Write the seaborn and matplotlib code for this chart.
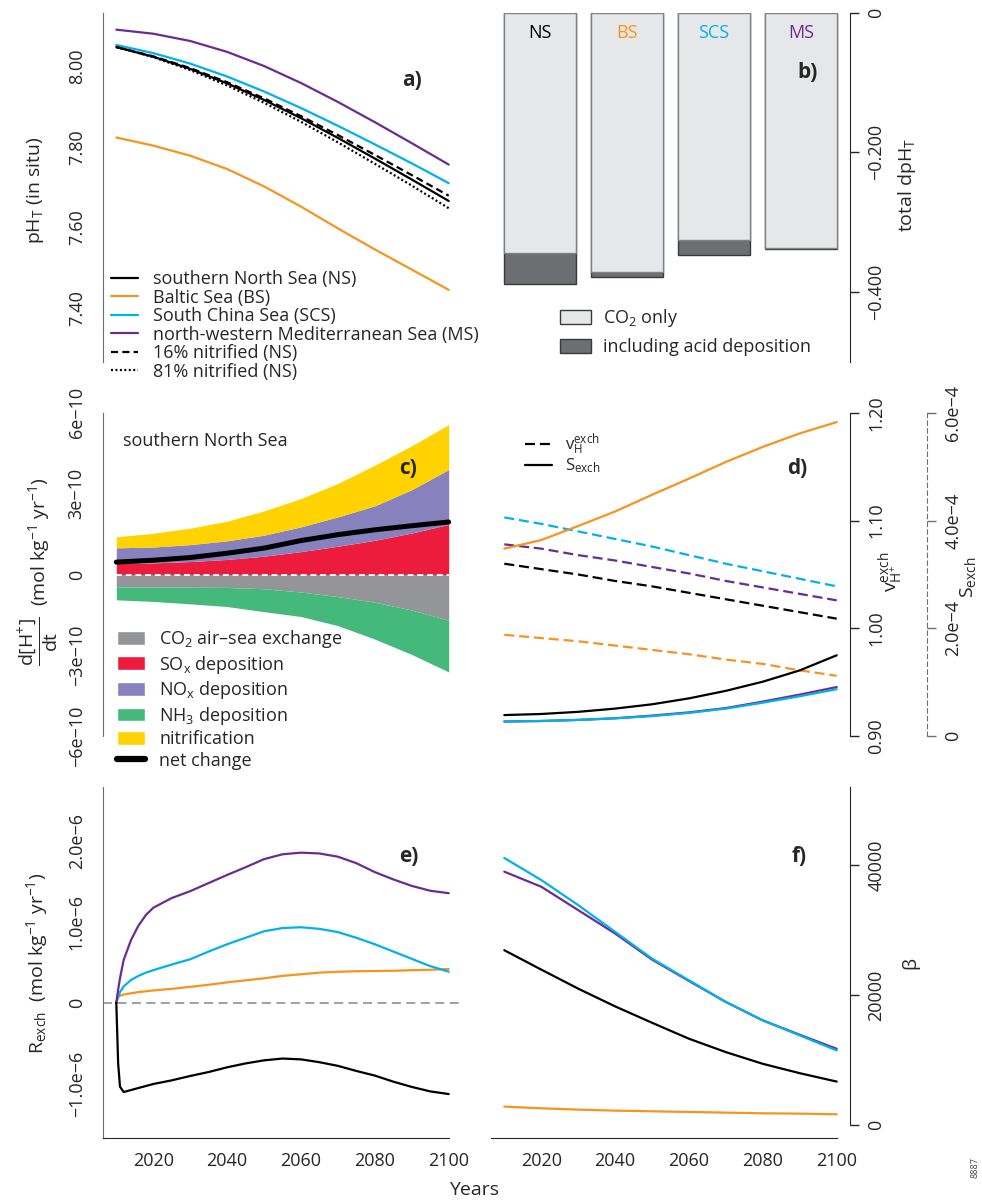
import matplotlib
matplotlib.use("Agg")
import matplotlib.pyplot as plt
from matplotlib.lines import Line2D
from matplotlib.patches import Patch
import seaborn as sns

sns.set_style("white")
plt.rcParams["font.family"] = ["Open Sans", "DejaVu Sans"]
plt.rcParams["mathtext.fontset"] = "custom"
plt.rcParams["mathtext.rm"] = "Open Sans"
plt.rcParams["mathtext.it"] = "Open Sans:italic"
plt.rcParams["mathtext.bf"] = "Open Sans:bold"
plt.rcParams["axes.unicode_minus"] = True

# ------------------------------------------------------------------ data
years = [2010, 2020, 2030, 2040, 2050, 2060, 2070, 2080, 2090, 2100]

# a) in-situ pH_T
ph_ns = [8.047, 8.023, 7.993, 7.957, 7.916, 7.871, 7.822, 7.771, 7.719, 7.666]
ph_bs = [7.823, 7.803, 7.778, 7.745, 7.702, 7.652, 7.598, 7.546, 7.496, 7.446]
ph_scs = [8.052, 8.032, 8.006, 7.974, 7.937, 7.896, 7.852, 7.806, 7.759, 7.710]
ph_ms = [8.090, 8.080, 8.062, 8.035, 8.000, 7.958, 7.911, 7.861, 7.809, 7.756]
ph_ns_nit16 = [8.047, 8.024, 7.995, 7.960, 7.920, 7.876, 7.829, 7.780, 7.730, 7.679]
ph_ns_nit81 = [8.047, 8.022, 7.990, 7.952, 7.909, 7.862, 7.811, 7.758, 7.704, 7.648]

# b) total pH change 2010-2100
regions = ["NS", "BS", "SCS", "MS"]
dph_co2_only = [-0.344, -0.372, -0.326, -0.337]
dph_with_dep = [-0.388, -0.379, -0.347, -0.338]

# c) contributions to d[H+]/dt, southern North Sea (units of 1e-10 mol/kg/yr)
c_unit = 1e-10
sox = [0.41, 0.43, 0.48, 0.56, 0.68, 0.85, 1.05, 1.27, 1.54, 1.86]
nox = [0.58, 0.59, 0.63, 0.69, 0.78, 0.92, 1.09, 1.28, 1.61, 2.04]
nitrif = [0.41, 0.51, 0.61, 0.73, 0.90, 1.05, 1.24, 1.51, 1.63, 1.67]
co2_ex = [-0.46, -0.46, -0.47, -0.48, -0.53, -0.65, -0.82, -1.03, -1.32, -1.70]
nh3 = [-0.48, -0.54, -0.62, -0.71, -0.85, -0.91, -1.08, -1.37, -1.65, -1.92]
net_change = [0.46, 0.53, 0.63, 0.79, 0.98, 1.26, 1.48, 1.66, 1.81, 1.95]

# d) v_H^exch (inner right scale) and S_exch (outer right scale, units of 1e-4)
vh_ns = [1.060, 1.055, 1.050, 1.044, 1.039, 1.033, 1.027, 1.021, 1.015, 1.009]
vh_bs = [0.994, 0.991, 0.988, 0.984, 0.980, 0.976, 0.971, 0.967, 0.961, 0.956]
vh_scs = [1.103, 1.097, 1.090, 1.083, 1.076, 1.068, 1.060, 1.053, 1.046, 1.039]
vh_ms = [1.078, 1.074, 1.068, 1.063, 1.057, 1.051, 1.044, 1.038, 1.032, 1.026]
s_unit = 1e-4
sx_ns = [0.39, 0.41, 0.45, 0.51, 0.59, 0.70, 0.84, 1.01, 1.22, 1.50]
sx_bs = [3.48, 3.64, 3.90, 4.17, 4.48, 4.78, 5.09, 5.37, 5.62, 5.83]
sx_scs = [0.27, 0.28, 0.30, 0.33, 0.37, 0.43, 0.51, 0.62, 0.74, 0.87]
sx_ms = [0.27, 0.28, 0.30, 0.33, 0.38, 0.44, 0.52, 0.64, 0.77, 0.91]

# e) R_exch (units of 1e-6 mol/kg/yr)
years_e = [2010, 2010.5, 2011, 2012, 2014, 2016, 2018, 2020, 2025, 2030, 2035, 2040,
           2045, 2050, 2055, 2060, 2065, 2070, 2075, 2080, 2085, 2090, 2095, 2100]
r_unit = 1e-6
rx_ns = [0.0, -0.749, -1.037, -1.103, -1.078, -1.053, -1.029, -1.004, -0.959, -0.905,
         -0.856, -0.798, -0.750, -0.712, -0.690, -0.700, -0.735, -0.780, -0.843, -0.900,
         -0.975, -1.040, -1.095, -1.128]
rx_bs = [0.0, 0.070, 0.085, 0.100, 0.115, 0.130, 0.140, 0.150, 0.170, 0.195, 0.220,
         0.250, 0.275, 0.300, 0.330, 0.350, 0.370, 0.380, 0.387, 0.390, 0.393, 0.400,
         0.405, 0.415]
rx_scs = [0.0, 0.070, 0.130, 0.200, 0.280, 0.330, 0.370, 0.400, 0.470, 0.535, 0.630,
          0.720, 0.800, 0.880, 0.920, 0.930, 0.910, 0.870, 0.800, 0.720, 0.630, 0.540,
          0.450, 0.382]
rx_ms = [0.0, 0.160, 0.300, 0.527, 0.774, 0.950, 1.080, 1.170, 1.290, 1.375, 1.475,
         1.575, 1.670, 1.770, 1.830, 1.850, 1.840, 1.800, 1.720, 1.610, 1.520, 1.440,
         1.380, 1.350]

# f) beta
beta_ns = [26890, 23910, 20980, 18250, 15730, 13270, 11210, 9410, 7970, 6680]
beta_bs = [2830, 2570, 2370, 2210, 2110, 2010, 1900, 1800, 1750, 1650]
beta_scs = [41080, 37690, 33830, 29720, 25600, 22260, 18920, 16090, 13780, 11470]
beta_ms = [38970, 36660, 33060, 29460, 25450, 22160, 18920, 16090, 13880, 11720]

# ------------------------------------------------------------------ style
C_NS, C_BS, C_SCS, C_MS = "#000000", "#F7941D", "#00B2EC", "#6A2C91"
C_CO2, C_SOX, C_NOX, C_NH3, C_NIT = "#939598", "#ED1C3C", "#8781BD", "#45B87B", "#FFD200"
BAR_LIGHT, BAR_DARK = "#E6E7E8", "#6D6E71"
LW = 1.6
DASH = (0, (3.2, 1.9))
DOT = (0, (0.9, 1.1))
DASH_D = (0, (4.5, 2.2))
TICK_FS = 13
LAB_FS = 14
LEG_FS = 13
XLIM = (2006.4, 2103.6)

W, H = 982, 1200
fig = plt.figure(figsize=(W / 100, H / 100), dpi=100)


def add_axes(left, top, right, bottom):
    return fig.add_axes([left / W, 1 - bottom / H, (right - left) / W, (bottom - top) / H])


def fxy(x, y):
    return (x / W, 1 - y / H)


def clean(ax, keep):
    for s in ["left", "right", "top", "bottom"]:
        ax.spines[s].set_visible(s in keep)
    ax.tick_params(length=6.5, width=1, labelsize=TICK_FS, direction="out")
    ax.set_xlabel("")
    ax.set_ylabel("")


def line(ax, x, y, color, ls="-", lw=LW):
    sns.lineplot(x=x, y=y, color=color, linestyle=ls, linewidth=lw, ax=ax,
                 legend=False, estimator=None, sort=False)


def panel_label(text, x, y):
    fig.text(*fxy(x, y), text, fontsize=15, fontweight="bold", ha="center", va="center")


L0, L1 = 103, 462
R0, R1 = 491, 850
ROW_A = (12.7, 361.7)
ROW_C = (400, 749)
ROW_E = (787, 1138)

ax_a = add_axes(L0, ROW_A[0], L1, ROW_A[1])
ax_b = add_axes(R0, ROW_A[0], R1, ROW_A[1])
ax_c = add_axes(L0, ROW_C[0], L1, ROW_C[1])
ax_d = add_axes(R0, ROW_C[0], R1, ROW_C[1])
ax_e = add_axes(L0, ROW_E[0], L1, ROW_E[1])
ax_f = add_axes(R0, ROW_E[0], R1, ROW_E[1])

# ------------------------------------------------------------------ a)
line(ax_a, years, ph_bs, C_BS)
line(ax_a, years, ph_ms, C_MS)
line(ax_a, years, ph_scs, C_SCS)
line(ax_a, years, ph_ns_nit16, C_NS, DASH)
line(ax_a, years, ph_ns_nit81, C_NS, DOT)
line(ax_a, years, ph_ns, C_NS)
ax_a.set_xlim(*XLIM)
ax_a.set_ylim(7.268, 8.132)
clean(ax_a, ["left"])
ax_a.spines["left"].set_color("#6D6E71")
ax_a.set_xticks([])
ax_a.set_yticks([7.4, 7.6, 7.8, 8.0])
ax_a.set_yticklabels(["7.40", "7.60", "7.80", "8.00"], rotation=90, va="center")
ax_a.tick_params(axis="y", pad=6, color="#6D6E71")
fig.text(*fxy(35, 190), r"pH$_{\mathrm{T}}$ (in situ)", rotation=90,
         fontsize=LAB_FS, ha="center", va="center")
panel_label("a)", 412, 80)
handles_a = [Line2D([], [], color=C_NS, lw=LW), Line2D([], [], color=C_BS, lw=LW),
             Line2D([], [], color=C_SCS, lw=LW), Line2D([], [], color=C_MS, lw=LW),
             Line2D([], [], color=C_NS, lw=LW, ls=DASH),
             Line2D([], [], color=C_NS, lw=LW, ls=DOT)]
labels_a = ["southern North Sea (NS)", "Baltic Sea (BS)", "South China Sea (SCS)",
            "north-western Mediterranean Sea (MS)", "16% nitrified (NS)",
            "81% nitrified (NS)"]
ax_a.legend(handles_a, labels_a, loc="upper left", bbox_to_anchor=fxy(111, 270),
            bbox_transform=fig.transFigure, frameon=False, fontsize=LEG_FS,
            handlelength=1.5, handletextpad=0.8, labelspacing=0.03,
            borderpad=0, borderaxespad=0)

# ------------------------------------------------------------------ b)
sns.barplot(x=regions, y=dph_with_dep, color=BAR_DARK, saturation=1, width=0.835,
            edgecolor="#3A3A3C", linewidth=1.0, ax=ax_b)
sns.barplot(x=regions, y=dph_co2_only, color=BAR_LIGHT, saturation=1, width=0.835,
            edgecolor="#808285", linewidth=1.0, ax=ax_b)
ax_b.set_xlim(-0.563, 3.563)
ax_b.set_ylim(-0.5, 0)
clean(ax_b, ["right"])
ax_b.set_xticks([])
ax_b.yaxis.tick_right()
ax_b.set_yticks([0, -0.2, -0.4])
ax_b.set_yticklabels(["0", "\u22120.200", "\u22120.400"], rotation=90, va="center")
ax_b.tick_params(axis="y", pad=6)
for i, (name, col) in enumerate(zip(regions, [C_NS, C_BS, C_SCS, C_MS])):
    ax_b.text(i, 0.942, name, color=col, fontsize=LEG_FS, ha="center", va="center",
              transform=ax_b.get_xaxis_transform())
fig.text(*fxy(907, 185), r"total dpH$_{\mathrm{T}}$", rotation=90,
         fontsize=LAB_FS, ha="center", va="center")
panel_label("b)", 808, 72)
handles_b = [Patch(facecolor=BAR_LIGHT, edgecolor="#3A3A3C", lw=1.0),
             Patch(facecolor=BAR_DARK, edgecolor="#3A3A3C", lw=1.0)]
ax_b.legend(handles_b, [r"CO$_{\mathrm{2}}$ only", "including acid deposition"],
            loc="upper left", bbox_to_anchor=fxy(560, 307),
            bbox_transform=fig.transFigure, frameon=False, fontsize=LEG_FS,
            handlelength=1.7, handleheight=0.85, handletextpad=0.7,
            labelspacing=0.5, borderpad=0, borderaxespad=0)

# ------------------------------------------------------------------ c)
s1 = [a * c_unit for a in sox]
s2 = [(a + b) * c_unit for a, b in zip(sox, nox)]
s3 = [(a + b + c) * c_unit for a, b, c in zip(sox, nox, nitrif)]
n1 = [a * c_unit for a in co2_ex]
n2 = [(a + b) * c_unit for a, b in zip(co2_ex, nh3)]
ax_c.fill_between(years, 0, s1, color=C_SOX, lw=0)
ax_c.fill_between(years, s1, s2, color=C_NOX, lw=0)
ax_c.fill_between(years, s2, s3, color=C_NIT, lw=0)
ax_c.fill_between(years, n1, 0, color=C_CO2, lw=0)
ax_c.fill_between(years, n2, n1, color=C_NH3, lw=0)
ax_c.hlines(0, years[0], years[-1], colors="white", linestyles=(0, (3, 2)), lw=1.4)
line(ax_c, years, [v * c_unit for v in net_change], "black", lw=3.6)
ax_c.set_xlim(*XLIM)
ax_c.set_ylim(-6.48e-10, 6.48e-10)
clean(ax_c, ["left"])
ax_c.spines["left"].set_color("#6D6E71")
ax_c.spines["left"].set_bounds(-6e-10, 6e-10)
ax_c.set_xticks([])
ax_c.set_yticks([-6e-10, -3e-10, 0, 3e-10, 6e-10])
ax_c.set_yticklabels(["\u22126e\u221210", "\u22123e\u221210", "0", "3e\u221210", "6e\u221210"],
                     rotation=90, va="center")
ax_c.tick_params(axis="y", pad=6, color="#6D6E71")
fig.text(*fxy(123, 441), "southern North Sea", fontsize=LEG_FS, ha="left", va="center")
fig.text(*fxy(38, 572),
         r"$\dfrac{\mathrm{d[H^{+}]}}{\mathrm{dt}}$  (mol kg$^{-1}$ yr$^{-1}$)",
         rotation=90, fontsize=LAB_FS, ha="center", va="center")
panel_label("c)", 408, 468)
handles_c = [Patch(facecolor=C_CO2), Patch(facecolor=C_SOX), Patch(facecolor=C_NOX),
             Patch(facecolor=C_NH3), Patch(facecolor=C_NIT),
             Line2D([], [], color="black", lw=4.5)]
labels_c = ["CO$_{\\mathrm{2}}$ air\u2013sea exchange", r"SO$_{\mathrm{x}}$ deposition",
            r"NO$_{\mathrm{x}}$ deposition", r"NH$_{\mathrm{3}}$ deposition",
            "nitrification", "net change"]
ax_c.legend(handles_c, labels_c, loc="upper left", bbox_to_anchor=fxy(117, 628),
            bbox_transform=fig.transFigure, frameon=False, fontsize=LEG_FS,
            handlelength=1.55, handleheight=0.8, handletextpad=0.8,
            labelspacing=0.2, borderpad=0, borderaxespad=0)

# ------------------------------------------------------------------ d)
ax_d2 = ax_d.twinx()
line(ax_d, years, vh_bs, C_BS, DASH_D)
line(ax_d, years, vh_ns, C_NS, DASH_D)
line(ax_d, years, vh_ms, C_MS, DASH_D)
line(ax_d, years, vh_scs, C_SCS, DASH_D)
line(ax_d2, years, [v * s_unit for v in sx_ns], C_NS)
line(ax_d2, years, [v * s_unit for v in sx_ms], C_MS)
line(ax_d2, years, [v * s_unit for v in sx_scs], C_SCS)
line(ax_d2, years, [v * s_unit for v in sx_bs], C_BS)
ax_d.set_xlim(*XLIM)
ax_d.set_ylim(0.888, 1.212)
ax_d2.set_ylim(-0.24e-4, 6.24e-4)
clean(ax_d, ["right"])
clean(ax_d2, ["right"])
ax_d.set_xticks([])
ax_d.yaxis.tick_right()
ax_d.spines["right"].set_bounds(0.9, 1.2)
ax_d.set_yticks([0.9, 1.0, 1.1, 1.2])
ax_d.set_yticklabels(["0.90", "1.00", "1.10", "1.20"], rotation=90, va="center")
ax_d.tick_params(axis="y", pad=6)
ax_d2.spines["right"].set_position(("outward", 55.4))
ax_d2.spines["right"].set_bounds(0, 6e-4)
ax_d2.spines["right"].set_linestyle((0, (4, 3)))
ax_d2.spines["right"].set_color("#6D6E71")
ax_d2.set_yticks([0, 2e-4, 4e-4, 6e-4])
ax_d2.set_yticklabels(["0", "2.0e\u22124", "4.0e\u22124", "6.0e\u22124"], rotation=90,
                      va="center")
ax_d2.tick_params(axis="y", pad=6, color="#6D6E71")
fig.text(*fxy(891, 572), r"$\mathrm{v}^{\mathrm{exch}}_{\mathrm{H^{+}}}$", rotation=90,
         fontsize=LAB_FS, ha="center", va="center")
fig.text(*fxy(968, 577), r"S$_{\mathrm{exch}}$", rotation=90,
         fontsize=LAB_FS, ha="center", va="center")
panel_label("d)", 797, 468)
handles_d = [Line2D([], [], color="black", lw=LW, ls=DASH_D),
             Line2D([], [], color="black", lw=LW)]
ax_d.legend(handles_d, [r"$\mathrm{v}^{\mathrm{exch}}_{\mathrm{H}}$", r"S$_{\mathrm{exch}}$"],
            loc="upper left", bbox_to_anchor=fxy(525, 432),
            bbox_transform=fig.transFigure, frameon=False, fontsize=12,
            handlelength=1.6, handletextpad=0.8, labelspacing=-0.1,
            borderpad=0, borderaxespad=0)

# ------------------------------------------------------------------ e)
ax_e.axhline(0, color="#999999", lw=1.3, ls=(0, (5, 3)))
line(ax_e, years_e, [v * r_unit for v in rx_bs], C_BS)
line(ax_e, years_e, [v * r_unit for v in rx_scs], C_SCS)
line(ax_e, years_e, [v * r_unit for v in rx_ms], C_MS)
line(ax_e, years_e, [v * r_unit for v in rx_ns], C_NS)
ax_e.set_xlim(*XLIM)
ax_e.set_ylim(-1.67e-6, 2.66e-6)
clean(ax_e, ["left", "bottom"])
ax_e.spines["left"].set_color("#6D6E71")
ax_e.spines["bottom"].set_bounds(XLIM[0], 2100)
ax_e.set_xticks([2020, 2040, 2060, 2080, 2100])
ax_e.set_xticklabels(["2020", "2040", "2060", "2080", "2100"])
ax_e.tick_params(axis="x", pad=3.5)
ax_e.set_yticks([-1e-6, 0, 1e-6, 2e-6])
ax_e.set_yticklabels(["\u22121.0e\u22126", "0", "1.0e\u22126", "2.0e\u22126"],
                     rotation=90, va="center")
ax_e.tick_params(axis="y", pad=6, color="#6D6E71")
fig.text(*fxy(37, 963), r"R$_{\mathrm{exch}}$  (mol kg$^{-1}$ yr$^{-1}$)", rotation=90,
         fontsize=LAB_FS, ha="center", va="center")
panel_label("e)", 409, 856)

# ------------------------------------------------------------------ f)
line(ax_f, years, beta_bs, C_BS)
line(ax_f, years, beta_ns, C_NS)
line(ax_f, years, beta_ms, C_MS)
line(ax_f, years, beta_scs, C_SCS)
ax_f.set_xlim(*XLIM)
ax_f.set_ylim(-2000, 52000)
clean(ax_f, ["right", "bottom"])
ax_f.spines["bottom"].set_bounds(XLIM[0], 2100)
ax_f.spines["right"].set_bounds(0, 52000)
ax_f.set_xticks([2020, 2040, 2060, 2080, 2100])
ax_f.set_xticklabels(["2020", "2040", "2060", "2080", "2100"])
ax_f.tick_params(axis="x", pad=3.5)
ax_f.yaxis.tick_right()
ax_f.set_yticks([0, 20000, 40000])
ax_f.set_yticklabels(["0", "20000", "40000"], rotation=90, va="center")
ax_f.tick_params(axis="y", pad=6)
fig.text(*fxy(910, 963), "\u03b2", rotation=90, fontsize=LAB_FS, ha="center", va="center")
panel_label("f)", 799, 856)

fig.text(*fxy(474, 1190), "Years", fontsize=LAB_FS, ha="center", va="center")
fig.text(*fxy(975, 1168), "8887", rotation=90, fontsize=6.5, color="#444444",
         ha="center", va="center")

fig.savefig("out.png", dpi=100)
